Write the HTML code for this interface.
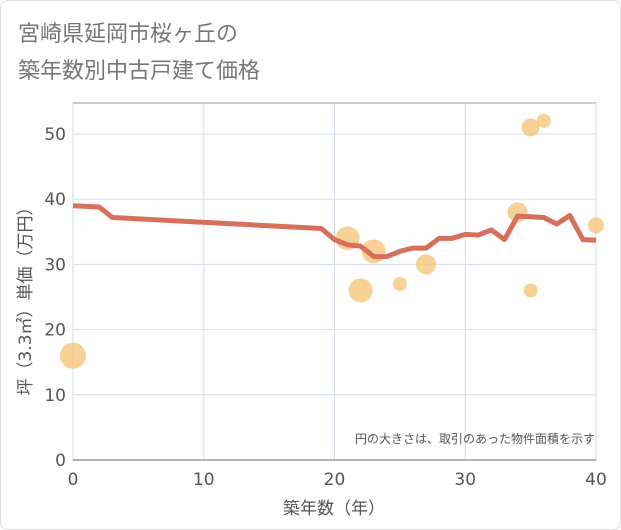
<!DOCTYPE html>
<html><head><meta charset="utf-8"><style>
body{margin:0;background:#fff;}
#wrap{width:619px;height:528px;border:1px solid #ddd;border-radius:8px;position:relative;font-family:"DejaVu Sans","Noto Sans CJK JP",sans-serif;background:#fff;}
text{font-family:"DejaVu Sans","Noto Sans CJK JP",sans-serif;}
</style></head><body>
<div id="wrap">
<svg id="chart" width="621" height="530" style="position:absolute;left:-1px;top:-1px">
<text x="18" y="41" font-size="22" fill="#777">宮崎県延岡市桜ヶ丘の</text>
<text x="18" y="78" font-size="22" fill="#777">築年数別中古戸建て価格</text>
<g id="grid"></g><g id="bubbles"></g><g id="line"></g><g id="axes"></g>
<text x="595" y="443" font-size="12" fill="#555" text-anchor="end">円の大きさは、取引のあった物件面積を示す</text>
<text x="334" y="514" font-size="17" fill="#555" text-anchor="middle">築年数（年）</text>
<text transform="translate(31,297) rotate(-90)" font-size="17" fill="#555" text-anchor="middle">坪（3.3㎡）単価（万円）</text>
</svg></div>
<script>
const xTicks=[0,10,20,30,40];
const yTicks=[0,10,20,30,40,50];
const lineYears=[0,2,3,19,20,21,22,23,24,25,26,27,28,29,30,31,32,33,34,35,36,37,38,39,40];
const linePrices=[39,38.8,37.2,35.5,33.8,33,32.8,31.2,31.2,32,32.5,32.5,34,34,34.6,34.5,35.3,33.8,37.4,37.3,37.2,36.2,37.5,33.8,33.7];
const bubbleYears=[0,21,22,23,25,27,34,35,36,35,40];
const bubblePrices=[16,34,26,32,27,30,38,51,52,26,36];
const bubbleSizes=[13,12,12,12,7,10,10,9,7,7,8];
const NS="http://www.w3.org/2000/svg";
const X0=73,X1=596,Y0=460,Y1=103;
const sx=v=>X0+(X1-X0)*v/40;
const sy=v=>Y0-(Y0-134)*v/50;
function mk(tag,attrs,parent){const e=document.createElementNS(NS,tag);for(const k in attrs)e.setAttribute(k,attrs[k]);document.getElementById(parent).appendChild(e);return e;}
const bg=mk('rect',{x:X0,y:Y1,width:X1-X0,height:Y0-Y1,fill:'#fff',stroke:'#999','stroke-width':1},'grid');


xTicks.forEach(t=>{
 const l=mk('line',{x1:sx(t),x2:sx(t),y1:Y1,y2:Y0,stroke:'#d3dde8','stroke-width':1},'grid');
 
 
 const tx=mk('text',{x:sx(t),y:Y0+25,'font-size':17,fill:'#555','text-anchor':'middle'},'axes');
 tx.textContent=t;
 
 
});
yTicks.forEach(t=>{
 const l=mk('line',{x1:X0,x2:X1,y1:sy(t),y2:sy(t),stroke:'#d3dde8','stroke-width':1},'grid');
 
 
 const tx=mk('text',{x:X0-7,y:sy(t)+6,'font-size':17,fill:'#555','text-anchor':'end'},'axes');
 tx.textContent=t;
 
 
});
bubbleYears.forEach((y,i)=>{
 const c=mk('circle',{cx:sx(y),cy:sy(bubblePrices[i]),r:bubbleSizes[i],fill:'#f5c57a','fill-opacity':0.8},'bubbles');
 
 
});
const pts=lineYears.map((y,i)=>sx(y)+','+sy(linePrices[i])).join(' ');
const pl=mk('polyline',{points:pts,fill:'none',stroke:'#d7705a','stroke-width':5,'stroke-linejoin':'round'},'line');


const xa=mk('line',{x1:X0,x2:X1,y1:Y0,y2:Y0,stroke:'#666','stroke-width':1},'axes');


</script>
</body></html>
